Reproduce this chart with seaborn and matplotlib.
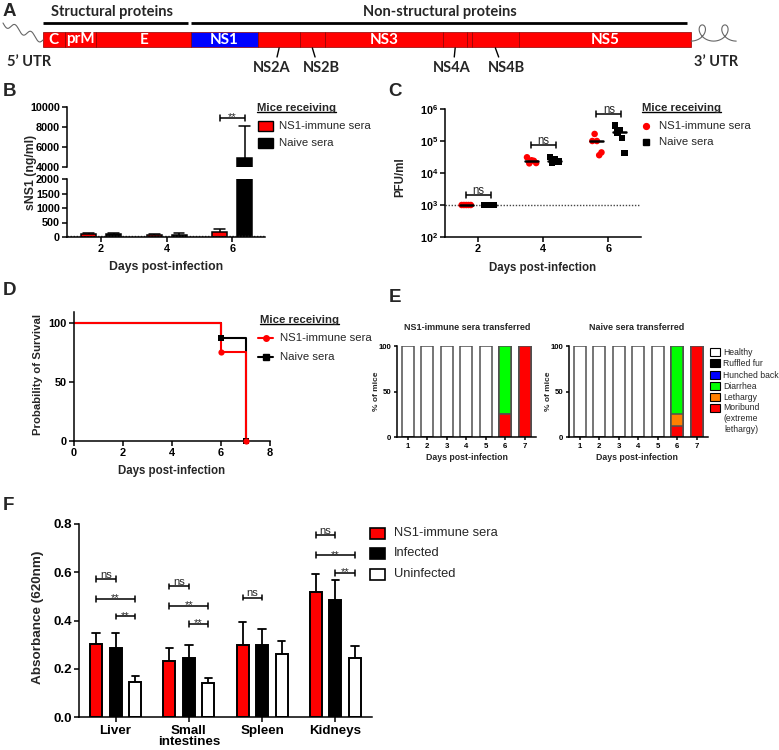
import numpy as np
import pandas as pd
import matplotlib
matplotlib.use("Agg")
import matplotlib.pyplot as plt
from matplotlib.patches import Rectangle
from matplotlib.lines import Line2D
from matplotlib.ticker import NullLocator
import seaborn as sns

# ======================= DATA =======================
# Panel A - genome organisation (amino-acid lengths)
genome_proteins = ["C", "prM", "E", "NS1", "NS2A", "NS2B", "NS3", "NS4A", "2K", "NS4B", "NS5"]
genome_lengths = [114, 166, 495, 352, 218, 130, 619, 127, 23, 248, 900]
genome_inside_labels = ["C", "prM", "E", "NS1", "NS3", "NS5"]
genome_outside_labels = ["NS2A", "NS2B", "NS4A", "NS4B"]

# Panel B - sNS1 (ng/ml)
b_days = ["2", "4", "6"]
b_groups = ["NS1-immune sera", "Naive sera"]
b_immune_mean = [90, 75, 175]
b_immune_sd = [50, 35, 90]
b_naive_mean = [100, 80, 4930]
b_naive_sd = [30, 45, 3140]
b_lod = 30
b_sig_y = 8900

# Panel C - PFU/ml
c_days = [2, 4, 6]
c_immune_d2 = [1000, 1000, 1000, 1000, 1000]
c_immune_d4 = [31000, 20000, 25000, 24000, 20500]
c_immune_d6 = [100000, 166000, 100000, 36000, 44000]
c_naive_d2 = [1000, 1000, 1000, 1000, 1000]
c_naive_d4 = [32000, 21000, 27000, 23000, 23000]
c_naive_d6 = [300000, 186000, 220000, 124000, 42000]
c_lod = 1000
c_sig_y = [2100, 75000, 680000]

# Panel D - survival
d_days = [0, 6, 7]
d_immune_surv = [100, 75, 0]
d_naive_surv = [100, 87.5, 0]

# Panel E - clinical scores (% of mice)
e_days = ["1", "2", "3", "4", "5", "6", "7"]
e_categories = ["Healthy", "Ruffled fur", "Hunched back", "Diarrhea", "Lethargy",
                "Moribund\n(extreme\nlethargy)"]
e_immune = [
    [100, 100, 100, 100, 100, 0, 0],
    [0, 0, 0, 0, 0, 0, 0],
    [0, 0, 0, 0, 0, 0, 0],
    [0, 0, 0, 0, 0, 75, 0],
    [0, 0, 0, 0, 0, 0, 0],
    [0, 0, 0, 0, 0, 25, 100],
]
e_naive = [
    [100, 100, 100, 100, 100, 0, 0],
    [0, 0, 0, 0, 0, 0, 0],
    [0, 0, 0, 0, 0, 0, 0],
    [0, 0, 0, 0, 0, 75, 0],
    [0, 0, 0, 0, 0, 12.5, 0],
    [0, 0, 0, 0, 0, 12.5, 100],
]

# Panel F - absorbance (620nm)
f_organs = ["Liver", "Small\nintestines", "Spleen", "Kidneys"]
f_groups = ["NS1-immune sera", "Infected", "Uninfected"]
f_immune_mean = [0.303, 0.232, 0.299, 0.518]
f_immune_sd = [0.047, 0.056, 0.093, 0.076]
f_infected_mean = [0.286, 0.244, 0.298, 0.485]
f_infected_sd = [0.062, 0.053, 0.068, 0.082]
f_uninf_mean = [0.146, 0.142, 0.262, 0.245]
f_uninf_sd = [0.022, 0.019, 0.054, 0.051]
# (organ index, group i, group j, height, label)
f_brackets = [(0, 0, 1, 0.572, "ns"), (0, 0, 2, 0.490, "**"), (0, 1, 2, 0.417, "**"),
              (1, 0, 1, 0.541, "ns"), (1, 0, 2, 0.461, "**"), (1, 1, 2, 0.386, "**"),
              (2, 0, 1, 0.495, "ns"),
              (3, 0, 1, 0.754, "ns"), (3, 0, 2, 0.670, "**"), (3, 1, 2, 0.598, "**")]

# ======================= STYLE =======================
sns.set_theme(style="ticks")
plt.rcParams["font.family"] = ["Liberation Sans", "DejaVu Sans"]
plt.rcParams["font.weight"] = "bold"
plt.rcParams["mathtext.fontset"] = "custom"
plt.rcParams["mathtext.rm"] = "Liberation Sans"
plt.rcParams["mathtext.bf"] = "Liberation Sans:bold"
plt.rcParams["axes.linewidth"] = 1.1

RED = "#FF0000"
BLUE = "#0000FF"
GREEN = "#00FF00"
ORANGE = "#FF8000"

W, H = 779, 750
fig = plt.figure(figsize=(W / 100, H / 100), dpi=100)
renderer = fig.canvas.get_renderer()


def add_ax(x0, y0, x1, y1):
    return fig.add_axes([x0 / W, 1 - y1 / H, (x1 - x0) / W, (y1 - y0) / H])


def ftext(x, y, s, **kw):
    kw.setdefault("ha", "center")
    kw.setdefault("va", "center")
    return fig.text(x / W, 1 - y / H, s, **kw)


def style_ax(ax, fs, tl=3.5, pad=1.5):
    sns.despine(ax=ax)
    for sp in ("left", "bottom"):
        ax.spines[sp].set_linewidth(1.1)
        ax.spines[sp].set_color("black")
    ax.tick_params(direction="out", length=tl, width=1.1, colors="black", labelsize=fs, pad=pad)
    ax.set_xlabel("")
    ax.set_ylabel("")
    ax.set_facecolor("none")


def underlined(x, y, s, fs):
    t = ftext(x, y, s, ha="left", fontsize=fs, fontweight="bold")
    bb = t.get_window_extent(renderer=renderer)
    fig.add_artist(Line2D([bb.x0 / W, bb.x1 / W], [(bb.y0 + 1.2) / H] * 2,
                          transform=fig.transFigure, color="black", lw=1.0))


def key_rect(x0, yc, w, h, color, lw=1.0, ec="black"):
    fig.add_artist(Rectangle((x0 / W, 1 - (yc + h / 2) / H), w / W, h / H,
                             transform=fig.transFigure, facecolor=color, edgecolor=ec, lw=lw))


def key_marker(x, y, marker, color, ms):
    fig.add_artist(Line2D([x / W], [1 - y / H], marker=marker, color=color, ms=ms,
                          transform=fig.transFigure, linestyle="none"))


def key_line(x0, x1, y, color, marker, ms):
    fig.add_artist(Line2D([x0 / W, x1 / W], [1 - y / H] * 2, color=color, lw=1.5,
                          transform=fig.transFigure))
    key_marker((x0 + x1) / 2, y, marker, color, ms)


def up_errbars(ax, sds, capfrac=0.7, lw=1.1):
    for cont, sd in zip(ax.containers, sds):
        for patch, s in zip(cont.patches, sd):
            x = patch.get_x() + patch.get_width() / 2
            y = patch.get_y() + patch.get_height()
            hw = patch.get_width() * capfrac / 2
            ax.plot([x, x], [y, y + s], color="black", lw=lw, solid_capstyle="butt", zorder=1)
            ax.plot([x - hw, x + hw], [y + s, y + s], color="black", lw=lw, zorder=1)


def bracket(ax, x0, x1, y, text, cap, fs, log=False):
    lo, hi = (y / cap, y * cap) if log else (y - cap, y + cap)
    ax.plot([x0, x1], [y, y], color="black", lw=1.1, solid_capstyle="butt", clip_on=False)
    ax.plot([x0, x0], [lo, hi], color="black", lw=1.1, clip_on=False)
    ax.plot([x1, x1], [lo, hi], color="black", lw=1.1, clip_on=False)
    dy = 0.8 if text == "ns" else -1.8
    ax.annotate(text, xy=((x0 + x1) / 2, y), xytext=(0, dy), textcoords="offset points",
                ha="center", va="baseline", fontsize=fs, fontweight="normal", annotation_clip=False)


def bar_center(ax, hue_idx, cat_idx):
    p = ax.containers[hue_idx].patches[cat_idx]
    return p.get_x() + p.get_width() / 2


# ======================= PANEL A =======================
axA = add_ax(0, 0, W, 80)
axA.set_xlim(0, W)
axA.set_ylim(80, 0)
axA.axis("off")
x_start, x_end = 43, 691
scale = (x_end - x_start) / sum(genome_lengths)
lefts = x_start + scale * np.concatenate([[0], np.cumsum(genome_lengths)[:-1]])
widths = scale * np.array(genome_lengths)
seg_colors = [BLUE if p == "NS1" else RED for p in genome_proteins]
axA.barh(y=39.5, width=widths, left=lefts, height=15.5, color=seg_colors,
         edgecolor="#8B0000", linewidth=0.5)
for p, l, w in zip(genome_proteins, lefts, widths):
    if p in genome_inside_labels:
        axA.text(l + w / 2, 39.5, p, color="white", ha="center", va="center",
                 fontsize=11, fontweight="bold", family="Lato")
label_shift = {"NS2A": -7, "NS2B": 9, "NS4A": -3, "NS4B": 11}
for p, l, w in zip(genome_proteins, lefts, widths):
    if p in genome_outside_labels:
        cx = l + w / 2
        lx = cx + label_shift[p]
        axA.plot([cx, cx + label_shift[p] * 0.3], [48, 57], color="black", lw=1.0)
        axA.text(lx, 67.5, p, ha="center", va="center", fontsize=10.5, fontweight="bold",
                 family="Lato")
ns_start = lefts[genome_proteins.index("NS1")]
axA.plot([x_start, ns_start - 3], [23, 23], color="black", lw=2.0, solid_capstyle="butt")
axA.plot([ns_start, x_end - 4], [23, 23], color="black", lw=2.0, solid_capstyle="butt")
axA.text(112, 12, "Structural proteins", ha="center", va="center",
         fontsize=10.5, fontweight="bold", family="Lato")
axA.text(440, 12, "Non-structural proteins", ha="center", va="center",
         fontsize=10.5, fontweight="bold", family="Lato")
axA.text(29, 62, "5\u2019 UTR", ha="center", va="center", fontsize=10.5, fontweight="bold",
         family="Lato")
axA.text(716, 62, "3\u2019 UTR", ha="center", va="center", fontsize=10.5, fontweight="bold",
         family="Lato")
s = np.linspace(0, 1, 200)
axA.plot(3 + 40 * s, 23 + 17 * s + 3.5 * np.sin(5 * np.pi * s), color="#666666", lw=0.8)
t = np.linspace(np.pi, 5 * np.pi, 400)
axA.plot(x_end + 3.6 * (t - np.pi) - 8 * np.sin(t), 33 - 9 * np.cos(t) * 0.9, color="#666666", lw=0.8)

# ======================= PANEL B =======================
axBt = add_ax(67, 107, 265, 167)
axBb = add_ax(67, 179, 265, 237)
dfB = pd.DataFrame({"day": b_days * 2,
                    "group": [g for g in b_groups for _ in b_days],
                    "mean": b_immune_mean + b_naive_mean})
for ax in (axBt, axBb):
    sns.barplot(data=dfB, x="day", y="mean", hue="group", hue_order=b_groups,
                palette={b_groups[0]: RED, b_groups[1]: "black"}, width=0.76, gap=0.4,
                saturation=1, edgecolor="black", linewidth=1.1, errorbar=None, legend=False, ax=ax)
    up_errbars(ax, [b_immune_sd, b_naive_sd], capfrac=0.72)
    ax.set_xlim(-0.52, 2.5)
    style_ax(ax, 7.8)
axBt.set_ylim(4000, 10000)
axBt.set_yticks([4000, 6000, 8000, 10000])
axBt.spines["bottom"].set_visible(False)
axBt.tick_params(axis="x", bottom=False, labelbottom=False)
axBb.set_ylim(0, 2000)
axBb.set_yticks([0, 500, 1000, 1500, 2000])
axBb.axhline(b_lod, ls=(0, (1, 1.2)), color="#444444", lw=1.0)
bracket(axBt, bar_center(axBt, 0, 2), bar_center(axBt, 1, 2), b_sig_y, "**", 300, 8)
ftext(31, 172, "sNS1 (ng/ml)", rotation=90, fontsize=8.8)
ftext(166, 267, "Days post-infection", fontsize=8.8)
underlined(257, 108, "Mice receiving", 8.2)
key_rect(258, 126, 15, 10, RED)
key_rect(258, 143, 15, 10, "black")
ftext(279, 126, b_groups[0], ha="left", fontsize=8.2, fontweight="normal")
ftext(279, 143, b_groups[1], ha="left", fontsize=8.2, fontweight="normal")

# ======================= PANEL C =======================
axC = add_ax(445, 109, 641, 237)
jitter = [-0.14, -0.07, 0.0, 0.07, 0.14]
group_shift = {"NS1-immune sera": -0.35, "Naive sera": 0.35}
rows = []
for g, sets in (("NS1-immune sera", [c_immune_d2, c_immune_d4, c_immune_d6]),
                ("Naive sera", [c_naive_d2, c_naive_d4, c_naive_d6])):
    for d, vals in zip(c_days, sets):
        for j, v in zip(jitter, vals):
            rows.append({"x": d + group_shift[g] + j, "pfu": v, "group": g, "day": d})
dfC = pd.DataFrame(rows)
sns.scatterplot(data=dfC, x="x", y="pfu", hue="group", style="group",
                hue_order=b_groups, style_order=b_groups,
                palette={b_groups[0]: RED, b_groups[1]: "black"},
                markers={b_groups[0]: "o", b_groups[1]: "s"}, s=22, linewidth=0,
                legend=False, ax=axC, zorder=3)
for (g, d), sub in dfC.groupby(["group", "day"]):
    c = d + group_shift[g]
    axC.plot([c - 0.2, c + 0.2], [np.median(sub["pfu"])] * 2, color="black", lw=1.8, zorder=4)
axC.set_yscale("log")
axC.set_ylim(1e2, 1e6)
axC.set_xlim(1, 7)
axC.set_xticks(c_days)
axC.set_xticklabels([str(d) for d in c_days])
axC.set_yticks([1e2, 1e3, 1e4, 1e5, 1e6])
axC.set_yticklabels([r"$\mathbf{10^{%d}}$" % k for k in range(2, 7)])
axC.yaxis.set_minor_locator(NullLocator())
axC.axhline(c_lod, ls=(0, (1, 1.2)), color="#444444", lw=1.0, zorder=1)
style_ax(axC, 7.8)
for d, ys in zip(c_days, c_sig_y):
    bracket(axC, d - 0.37, d + 0.4, ys, "ns", 1.25, 8.3, log=True)
ftext(400, 177, "PFU/ml", rotation=90, fontsize=8.3)
ftext(543, 268, "Days post-infection", fontsize=8.3)
underlined(642, 108, "Mice receiving", 8.2)
key_marker(646, 126, "o", RED, 4.2)
key_marker(646, 142, "s", "black", 4.2)
ftext(659, 126, b_groups[0], ha="left", fontsize=8.2, fontweight="normal")
ftext(659, 142, b_groups[1], ha="left", fontsize=8.2, fontweight="normal")

# ======================= PANEL D =======================
axD = add_ax(74, 312, 270, 441)
sns.lineplot(x=d_days, y=d_naive_surv, drawstyle="steps-post", color="black", lw=1.5, ax=axD)
sns.lineplot(x=d_days, y=d_immune_surv, drawstyle="steps-post", color=RED, lw=1.5, ax=axD)
sns.scatterplot(x=d_days[1:], y=d_naive_surv[1:], marker="s", color="black", s=20,
                linewidth=0, ax=axD, zorder=5, clip_on=False)
sns.scatterplot(x=d_days[1:], y=d_immune_surv[1:], marker="o", color=RED, s=20,
                linewidth=0, ax=axD, zorder=6, clip_on=False)
axD.set_xlim(0, 8)
axD.set_ylim(0, 109.3)
axD.set_xticks([0, 2, 4, 6, 8])
axD.set_yticks([0, 50, 100])
style_ax(axD, 7.9)
ftext(38, 374, "Probability of Survival", rotation=90, fontsize=8.2)
ftext(172, 471, "Days post-infection", fontsize=8.3)
underlined(260, 320, "Mice receiving", 8.2)
key_line(258, 273, 338, RED, "o", 4)
key_line(258, 273, 357, "black", "s", 4)
ftext(280, 338, b_groups[0], ha="left", fontsize=8.2, fontweight="normal")
ftext(280, 357, b_groups[1], ha="left", fontsize=8.2, fontweight="normal")

# ======================= PANEL E =======================
e_colors = ["white", "black", BLUE, GREEN, ORANGE, RED]


def stacked(ax, table):
    arr = np.array(table, dtype=float)
    cum = np.cumsum(arr[::-1], axis=0)[::-1]
    for i in range(len(e_categories)):
        sns.barplot(x=e_days, y=cum[i], color=e_colors[i], saturation=1, width=0.62,
                    edgecolor="#505050", linewidth=1.1, errorbar=None, ax=ax)
    ax.set_xlim(-0.55, 6.55)
    ax.set_ylim(0, 100)
    ax.set_yticks([0, 50, 100])
    style_ax(ax, 5.6, tl=2.5)


axEl = add_ax(397, 346, 535.5, 437)
axEr = add_ax(569, 346, 707.5, 437)
stacked(axEl, e_immune)
stacked(axEr, e_naive)
for cx, title in ((467, "NS1-immune sera transferred"), (637, "Naive sera transferred")):
    ftext(cx, 328, title, fontsize=6.5)
    ftext(cx, 458, "Days post-infection", fontsize=6.3)
ftext(376, 391, "% of mice", rotation=90, fontsize=6.0)
ftext(548, 391, "% of mice", rotation=90, fontsize=6.0)
e_rows = [352, 363, 375, 386, 397, 408]
for yc, col, lab in zip(e_rows, e_colors, e_categories):
    key_rect(710, yc, 10, 8, col, lw=0.8)
    if "\n" in lab:
        ftext(723, yc - 5, lab, ha="left", va="top", fontsize=6.2, fontweight="normal",
              multialignment="center", linespacing=1.25)
    else:
        ftext(723, yc, lab, ha="left", fontsize=6.2, fontweight="normal")

# ======================= PANEL F =======================
axF = add_ax(79, 524, 372, 717)
dfF = pd.DataFrame({"organ": f_organs * 3,
                    "group": [g for g in f_groups for _ in f_organs],
                    "mean": f_immune_mean + f_infected_mean + f_uninf_mean})
sns.barplot(data=dfF, x="organ", y="mean", hue="group", hue_order=f_groups,
            palette={f_groups[0]: RED, f_groups[1]: "black", f_groups[2]: "white"},
            width=0.8, gap=0.38, saturation=1, edgecolor="black", linewidth=1.4,
            errorbar=None, legend=False, ax=axF)
up_errbars(axF, [f_immune_sd, f_infected_sd, f_uninf_sd], capfrac=0.6, lw=1.3)
axF.set_xlim(-0.5, 3.5)
axF.set_ylim(0, 0.8)
axF.set_yticks([0.0, 0.2, 0.4, 0.6, 0.8])
axF.set_yticklabels(["0.0", "0.2", "0.4", "0.6", "0.8"])
style_ax(axF, 9.6)
axF.tick_params(axis="x", pad=2.5)
for lab in axF.get_xticklabels():
    lab.set_linespacing(0.88)
for oi, gi, gj, y, lab in f_brackets:
    bracket(axF, bar_center(axF, gi, oi), bar_center(axF, gj, oi), y, lab, 0.012, 8)
ftext(38, 617, "Absorbance (620nm)", rotation=90, fontsize=9.7)
for yc, col, lab in zip([533, 553.5, 574], [RED, "black", "white"], f_groups):
    key_rect(370, yc, 15, 11, col, lw=1.2)
    ftext(394, yc, lab, ha="left", fontsize=9.3, fontweight="normal")

# ======================= PANEL LETTERS =======================
for x, y, L in ((9, 11, "A"), (9, 91, "B"), (395, 91, "C"), (9, 290, "D"), (395, 297, "E"),
                (8, 505, "F")):
    ftext(x, y, L, fontsize=13.5, fontweight="bold")

fig.savefig("out.png", dpi=100)
